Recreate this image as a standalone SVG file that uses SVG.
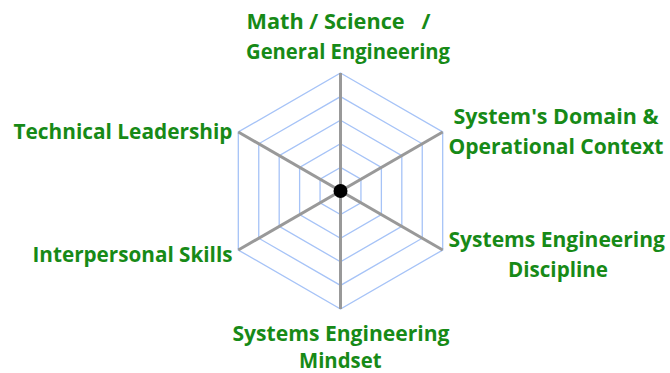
<svg xmlns="http://www.w3.org/2000/svg" width="670" height="373" viewBox="0 0 670 373">
<style>
.ring{fill:none;stroke:#a6c3f7;stroke-width:1.3}
.spoke{stroke:#999999;stroke-width:3;stroke-linecap:butt}
.lbl{font-family:"Open Sans","Noto Sans","Liberation Sans",sans-serif;font-weight:bold;font-size:20.5px;fill:#178a17}
</style>
<rect width="670" height="373" fill="#ffffff"/>
<g id="grid">
<polygon class="ring" points="340.5,167.4 360.94,179.2 360.94,202.8 340.5,214.6 320.06,202.8 320.06,179.2"/>
<polygon class="ring" points="340.5,143.8 381.38,167.4 381.38,214.6 340.5,238.2 299.62,214.6 299.62,167.4"/>
<polygon class="ring" points="340.5,120.2 401.81,155.6 401.81,226.4 340.5,261.8 279.19,226.4 279.19,155.6"/>
<polygon class="ring" points="340.5,96.6 422.25,143.8 422.25,238.2 340.5,285.4 258.75,238.2 258.75,143.8"/>
<polygon class="ring" points="340.5,73 442.69,132 442.69,250 340.5,309 238.31,250 238.31,132"/>
</g>
<g id="connectors">
<line class="spoke" x1="340.5" y1="73" x2="340.5" y2="309"/>
<line class="spoke" x1="238.31" y1="132" x2="442.69" y2="250"/>
<line class="spoke" x1="442.69" y1="132" x2="238.31" y2="250"/>
</g>
<g id="center"><circle cx="340.5" cy="191" r="7" fill="#000000"/></g>
<g id="math-science">
<text class="lbl" x="246.5" y="29" xml:space="preserve" textLength="184" lengthAdjust="spacingAndGlyphs">Math / Science   /</text>
<text class="lbl" x="246" y="59" textLength="204" lengthAdjust="spacingAndGlyphs">General Engineering</text>
</g>
<g id="domain-context">
<text class="lbl" x="453.5" y="124" textLength="205" lengthAdjust="spacingAndGlyphs">System's Domain &amp;</text>
<text class="lbl" x="448.5" y="153.5" textLength="215" lengthAdjust="spacingAndGlyphs">Operational Context</text>
</g>
<g id="se-discipline">
<text class="lbl" x="448.5" y="247" textLength="216.5" lengthAdjust="spacingAndGlyphs">Systems Engineering</text>
<text class="lbl" x="508" y="277" textLength="100" lengthAdjust="spacingAndGlyphs">Discipline</text>
</g>
<g id="se-mindset">
<text class="lbl" x="232.5" y="341" textLength="217" lengthAdjust="spacingAndGlyphs">Systems Engineering</text>
<text class="lbl" x="299" y="367.5" textLength="82.5" lengthAdjust="spacingAndGlyphs">Mindset</text>
</g>
<g id="interpersonal">
<text class="lbl" x="32.5" y="262" textLength="200" lengthAdjust="spacingAndGlyphs">Interpersonal Skills</text>
</g>
<g id="technical-leadership">
<text class="lbl" x="13.5" y="138.5" textLength="219" lengthAdjust="spacingAndGlyphs">Technical Leadership</text>
</g>
</svg>
